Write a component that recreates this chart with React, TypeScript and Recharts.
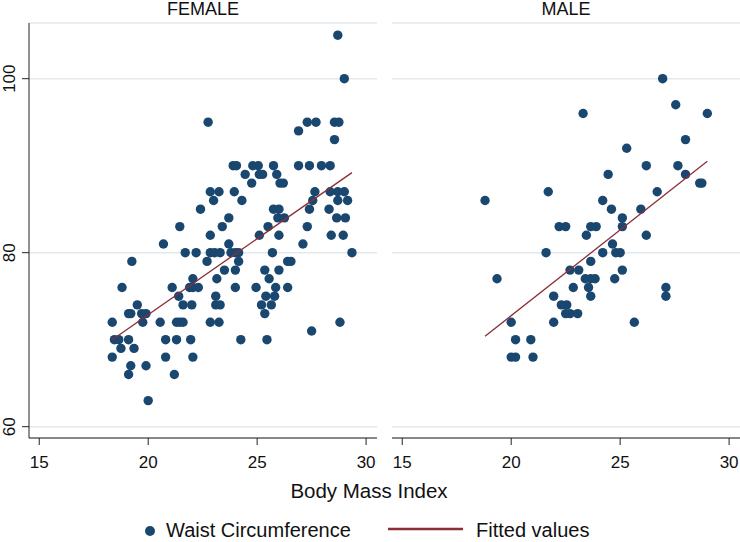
import { ScatterChart, Scatter, XAxis, YAxis, CartesianGrid } from 'recharts';

// Body mass index (x) and waist circumference (y)
const femaleBmi = [
  28.7, 29.0, 22.75, 27.3, 27.7, 28.55, 28.75, 26.9, 28.55,
  23.9, 24.05, 24.8, 25.05, 25.75, 26.9, 27.4, 27.95, 28.35,
  24.45, 25.1, 25.25, 25.9,
  24.75, 26.05, 26.2,
  22.85, 23.25, 23.95, 27.65, 28.35, 28.7, 29.0,
  23.0, 24.3, 27.55, 28.7, 29.15,
  22.4, 25.75, 26.0, 27.4, 28.3,
  23.7, 25.95, 26.25, 28.65, 29.05,
  21.45, 23.4, 25.5, 27.3,
  22.85, 25.1, 26.0, 28.4, 28.95,
  20.7, 23.7, 27.1,
  21.7, 22.2, 22.85, 23.05, 23.3, 23.8, 24.0, 24.15, 25.7, 29.35,
  19.25, 22.7, 24.15, 26.4, 26.55,
  23.5, 24.0, 25.35, 26.0,
  22.05, 23.15, 25.55,
  18.8, 21.1, 21.9, 22.05, 22.3, 24.0, 24.95, 25.85, 26.4,
  21.4, 23.1, 25.4, 25.8,
  19.5, 21.6, 22.0, 23.1, 23.3, 25.2, 25.65,
  19.1, 19.2, 19.7, 19.9, 25.35,
  18.35, 19.75, 20.55, 21.3, 21.45, 21.6, 22.85, 23.25, 28.8,
  27.5,
  18.45, 18.65, 19.1, 20.8, 21.3, 21.95, 24.25, 25.45,
  18.75, 19.35,
  18.35, 20.8, 22.05,
  19.2, 19.9,
  19.1, 21.2,
  20.0,
];
const femaleWaist = [
  105, 100, 95, 95, 95, 95, 95, 94, 93,
  90, 90, 90, 90, 90, 90, 90, 90, 90,
  89, 89, 89, 89,
  88, 88, 88,
  87, 87, 87, 87, 87, 87, 87,
  86, 86, 86, 86, 86,
  85, 85, 85, 85, 85,
  84, 84, 84, 84, 84,
  83, 83, 83, 83,
  82, 82, 82, 82, 82,
  81, 81, 81,
  80, 80, 80, 80, 80, 80, 80, 80, 80, 80,
  79, 79, 79, 79, 79,
  78, 78, 78, 78,
  77, 77, 77,
  76, 76, 76, 76, 76, 76, 76, 76, 76,
  75, 75, 75, 75,
  74, 74, 74, 74, 74, 74, 74,
  73, 73, 73, 73, 73,
  72, 72, 72, 72, 72, 72, 72, 72, 72,
  71,
  70, 70, 70, 70, 70, 70, 70, 70,
  69, 69,
  68, 68, 68,
  67, 67,
  66, 66,
  63,
];

const maleBmi = [
  26.95, 27.55, 23.3, 29.0, 28.0, 25.3,
  26.2, 27.65, 24.45, 28.0, 28.65, 28.75, 21.7, 26.7, 18.8, 24.2, 24.6, 25.95, 25.1,
  22.2, 22.5, 23.65, 23.9, 25.1, 23.45, 26.2, 24.65, 21.6, 24.2, 24.8, 25.0, 23.65,
  22.7, 23.1, 25.1, 19.35, 23.4, 23.65, 23.85, 24.75, 22.85, 23.55, 27.1,
  21.95, 23.65, 27.1, 22.3, 22.55, 22.5, 22.7, 23.05, 20.0, 21.95, 25.65,
  20.2, 20.9, 20.0, 20.2, 21.0,
];
const maleWaist = [
  100, 97, 96, 96, 93, 92,
  90, 90, 89, 89, 88, 88, 87, 87, 86, 86, 85, 85, 84,
  83, 83, 83, 83, 83, 82, 82, 81, 80, 80, 80, 80, 79,
  78, 78, 78, 77, 77, 77, 77, 77, 76, 76, 76,
  75, 75, 75, 74, 74, 73, 73, 73, 72, 72, 72,
  70, 70, 68, 68, 68,
];

// fitted line ends (min and max BMI of each group)
const femaleFitBmi = [18.35, 29.35];
const femaleFitWaist = [70.0, 89.2];
const maleFitBmi = [18.8, 29.0];
const maleFitWaist = [70.4, 90.5];

const xTicks = [15, 20, 25, 30];
const yTicks = [60, 80, 100];
const xDomain = [14.53, 30.5];
const yDomain = [58.7, 106.4];

const NAVY = '#1a476f';
const MAROON = '#8a2f35';
const GRID = '#e2e9ee';
const FONT = '"Liberation Sans", Arial, sans-serif';

const zip = (xs: number[], ys: number[]) => xs.map((bmi, i) => ({ bmi, waist: ys[i] }));

const Dot = (props: any) => <circle cx={props.cx} cy={props.cy} r={4.7} fill={NAVY} />;
const NoDot = () => null;

const XTick = (props: any) => (
  <text x={props.x} y={props.y + 21} textAnchor="middle" fontSize={17} fontFamily={FONT} fill="#111">
    {props.payload.value}
  </text>
);

const YTick = (props: any) => (
  <g transform={`translate(${props.x - 5},${props.y})`}>
    <text transform="rotate(-90)" textAnchor="middle" fontSize={17} fontFamily={FONT} fill="#111">
      {props.payload.value}
    </text>
  </g>
);

function Panel({ points, fit, showY, width, left }: { points: any[]; fit: any[]; showY: boolean; width: number; left: number }) {
  return (
    <div style={{ position: 'absolute', left, top: 0 }}>
      <ScatterChart
        width={width}
        height={480}
        margin={{ top: 23, right: showY ? 3 : 0, bottom: 10, left: showY ? 0 : 22 }}
      >
        <CartesianGrid vertical={false} stroke={GRID} strokeWidth={1.5} />
        <XAxis
          type="number"
          dataKey="bmi"
          domain={xDomain}
          ticks={xTicks}
          allowDataOverflow
          height={32}
          tickSize={7}
          stroke="#222"
          tick={<XTick />}
        />
        <YAxis
          type="number"
          dataKey="waist"
          domain={yDomain}
          ticks={yTicks}
          allowDataOverflow
          hide={!showY}
          width={29}
          tickSize={7}
          stroke="#222"
          tick={<YTick />}
        />
        <Scatter data={points} shape={<Dot />} isAnimationActive={false} />
        <Scatter data={fit} shape={<NoDot />} line={{ stroke: MAROON, strokeWidth: 1.3 }} isAnimationActive={false} />
      </ScatterChart>
    </div>
  );
}

export default function App() {
  return (
    <div style={{ position: 'absolute', left: 0, top: 0, width: 740, height: 542, background: '#fff' }}>
      <Panel points={zip(femaleBmi, femaleWaist)} fit={zip(femaleFitBmi, femaleFitWaist)} showY width={380} left={0} />
      <Panel points={zip(maleBmi, maleWaist)} fit={zip(maleFitBmi, maleFitWaist)} showY={false} width={370} left={370} />

      {/* titles, axis title and legend */}
      <svg width={740} height={542} style={{ position: 'absolute', left: 0, top: 0, pointerEvents: 'none' }}>
        <g fontFamily={FONT} fill="#111">
          <text x={203} y={15} textAnchor="middle" fontSize={18}>FEMALE</text>
          <text x={566} y={15} textAnchor="middle" fontSize={18}>MALE</text>
          <text x={369} y={498} textAnchor="middle" fontSize={20.5}>Body Mass Index</text>
          <circle cx={150} cy={531} r={5} fill={NAVY} />
          <text x={166} y={537} fontSize={20}>Waist Circumference</text>
          <line x1={388} x2={463} y1={529} y2={529} stroke={MAROON} strokeWidth={2.5} />
          <text x={476} y={537} fontSize={20}>Fitted values</text>
        </g>
      </svg>
    </div>
  );
}
